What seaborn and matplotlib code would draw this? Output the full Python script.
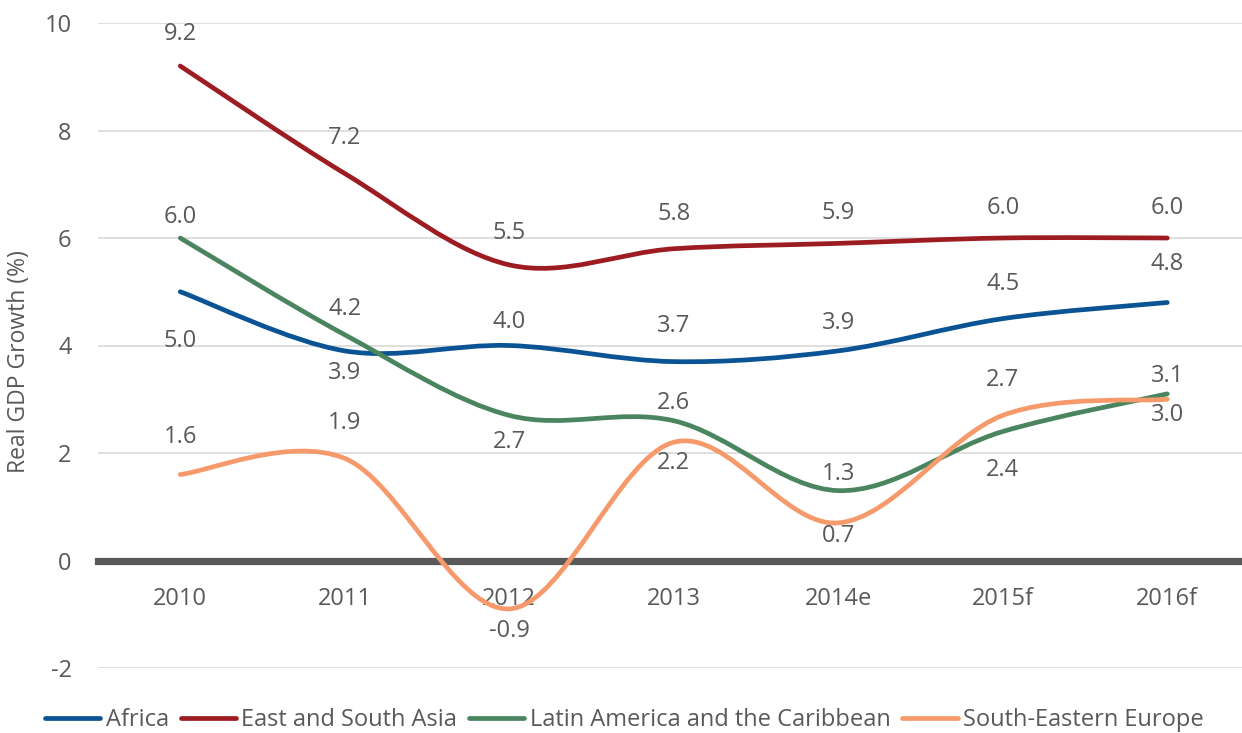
import numpy as np
import pandas as pd
import matplotlib
matplotlib.use("Agg")
import matplotlib.pyplot as plt
from matplotlib.path import Path
from matplotlib.patches import PathPatch
from matplotlib.lines import Line2D
import seaborn as sns

# ---------------- data ----------------
categories = ["2010", "2011", "2012", "2013", "2014e", "2015f", "2016f"]
regions = ["Africa", "East and South Asia", "Latin America and the Caribbean", "South-Eastern Europe"]
africa = [5.0, 3.9, 4.0, 3.7, 3.9, 4.5, 4.8]
east_south_asia = [9.2, 7.2, 5.5, 5.8, 5.9, 6.0, 6.0]
latin_america = [6.0, 4.2, 2.7, 2.6, 1.3, 2.4, 3.1]
se_europe = [1.6, 1.9, -0.9, 2.2, 0.7, 2.7, 3.0]
series = [africa, east_south_asia, latin_america, se_europe]

# label vertical offsets (pixels, + = below the point)
label_offsets = [
    [49, 22, -23, -36, -28, -35, -38],
    [-32, -36, -32, -35, -30, -30, -30],
    [-21, -26, 27, -18, -17, 39, -18],
    [-37, -35, 22, 21, 13, -35, 16],
]
colors = ["#0a5394", "#9c1c22", "#4a8560", "#f79a6b"]
TXT = "#595959"

rows = []
for reg, vals in zip(regions, series):
    for c, v in zip(categories, vals):
        rows.append({"region": reg, "year": c, "value": v})
df = pd.DataFrame(rows)

# ---------------- style ----------------
sns.set_theme(style="white")
plt.rcParams["font.family"] = ["Open Sans", "DejaVu Sans"]
plt.rcParams["axes.unicode_minus"] = False

W, H = 1242, 733
LW = 3.4
fig = plt.figure(figsize=(W / 100, H / 100), dpi=100)
ax = fig.add_axes([98 / W, 1 - 668 / H, (W - 98) / W, (668 - 23) / H])

sns.lineplot(data=df, x="year", y="value", hue="region", hue_order=regions,
             palette=colors, sort=False, legend=False, ax=ax)

# replace straight segments with smoothed (Bezier) curves through the same points
def smooth_path(pts):
    n = len(pts)
    verts = [pts[0]]
    codes = [Path.MOVETO]
    for i in range(n - 1):
        p0 = pts[i - 1] if i > 0 else pts[i]
        p1 = pts[i]
        p2 = pts[i + 1]
        p3 = pts[i + 2] if i + 2 < n else pts[i + 1]
        c1 = p1 + (p2 - p0) / 6.0
        c2 = p2 - (p3 - p1) / 6.0
        verts += [c1, c2, p2]
        codes += [Path.CURVE4] * 3
    return Path(np.array(verts), codes)

for line, col in zip(list(ax.lines), colors):
    pts = np.asarray(line.get_xydata(), dtype=float)
    line.remove()
    patch = PathPatch(smooth_path(pts), fill=False, edgecolor=col, lw=LW,
                      capstyle="round", joinstyle="round", zorder=3)
    ax.add_patch(patch)

# data labels
for vals, offs in zip(series, label_offsets):
    for i, (v, o) in enumerate(zip(vals, offs)):
        ax.annotate(f"{v:.1f}", (i, v), xytext=(0, -o * 0.72), textcoords="offset points",
                    ha="center", va="center", fontsize=17, color=TXT, zorder=4)

# axes
ax.set_ylim(-2, 10)
ax.set_xlim(-0.5, -0.5 + (W - 98) / 164.5)
ax.set_yticks(np.arange(-2, 11, 2))
ax.yaxis.grid(True, color="#d9d9d9", lw=1.2)
ax.xaxis.grid(False)
for s in ["left", "right", "top"]:
    ax.spines[s].set_visible(False)
ax.spines["bottom"].set_position(("data", 0))
ax.spines["bottom"].set_color("#595959")
ax.spines["bottom"].set_linewidth(5.2)
ax.spines["bottom"].set_zorder(2.5)
ax.set_xticks(range(len(categories)))
ax.set_xticklabels(categories)
ax.tick_params(axis="x", length=0, pad=19, labelsize=17, labelcolor=TXT)
ax.tick_params(axis="y", length=0, pad=19, labelsize=17, labelcolor=TXT)
ax.set_xlabel("")
ax.set_ylabel("")
ax.set_facecolor("white")

fig.text(19 / W, 1 - 362 / H, "Real GDP Growth (%)", rotation=90, ha="center", va="center",
         fontsize=16.5, color=TXT)

handles = [Line2D([0], [0], color=c, lw=LW, solid_capstyle="round") for c in colors]
fig.legend(handles, regions, loc="center left", bbox_to_anchor=(45 / W, 1 - 720 / H),
           ncol=4, frameon=False, fontsize=17, labelcolor=TXT, handlelength=2.35,
           handletextpad=0.22, columnspacing=0.5, borderaxespad=0, borderpad=0)

fig.savefig("out.png", dpi=100, facecolor="white")
